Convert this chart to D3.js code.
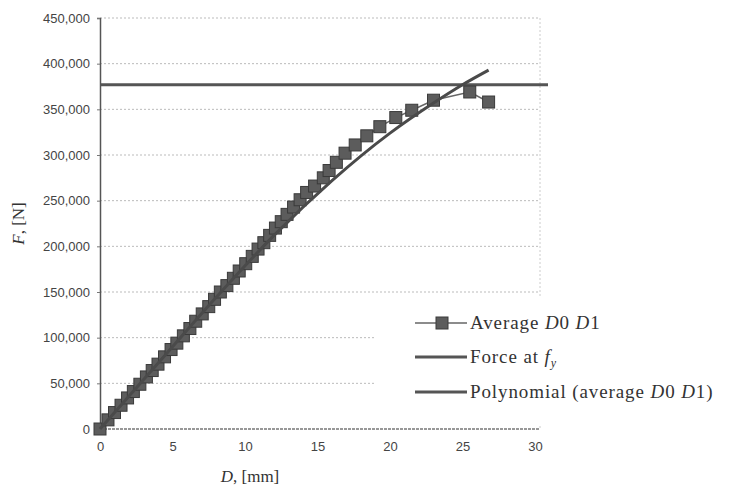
<!DOCTYPE html>
<html lang="en">
<head>
    <meta charset="UTF-8">
    <title>Force vs displacement</title>
    <style>
        body { margin: 0; background: #fff; }
        .tick text { font: 13px "Liberation Sans", Arial, sans-serif; fill: #444; }
        .title, .legend text { font-family: "Liberation Serif", "Times New Roman", serif; fill: #333; }
    </style>
</head>
<body>
    <svg width="729" height="487"></svg>
    <script src="https://d3js.org/d3.v7.min.js"></script>
    <script>
        // measured points, D [mm] and F [kN]
        const avgD = [0, 0.55, 1.0, 1.45, 1.9, 2.3, 2.75, 3.2, 3.6, 4.0, 4.45, 4.9, 5.3, 5.75, 6.2, 6.6,
            7.05, 7.5, 7.9, 8.3, 8.75, 9.2, 9.6, 10.05, 10.5, 10.9, 11.3, 11.7, 12.1, 12.5, 12.9, 13.35,
            13.8, 14.25, 14.8, 15.4, 15.8, 16.3, 16.9, 17.6, 18.4, 19.3, 20.4, 21.5, 23.0, 25.5, 26.8];
        const avgF = [0, 10, 18, 26, 34, 41, 49, 57, 64, 71, 79, 87, 94, 102, 110, 118,
            126, 134, 142, 150, 157, 165, 173, 181, 189, 197, 204, 212, 220, 227, 235, 243,
            251, 259, 266, 275, 283, 292, 302, 311, 321, 331, 341, 349, 360, 369, 358];

        // polynomial trendline
        const polyD = [0, 4, 8, 12, 16, 20, 23, 25, 26.8];
        const polyF = [0, 72, 144, 212, 272, 324, 357, 377, 393];

        const forceFy = 377; // kN

        const xTicks = [0, 5, 10, 15, 20, 25, 30];
        const yTicks = [0, 50, 100, 150, 200, 250, 300, 350, 400, 450];

        const svg = d3.select("svg");
        const x = d3.scaleLinear().domain([0, 30]).range([100, 535]);
        const y = d3.scaleLinear().domain([0, 450]).range([429, 18]);
        const fmt = d => d3.format(",")(d * 1000);

        // grid
        svg.append("g")
            .selectAll("line")
            .data(yTicks.slice(1))
            .enter().append("line")
            .attr("x1", x(0)).attr("x2", 540)
            .attr("y1", d => y(d)).attr("y2", d => y(d))
            .style("stroke", "#bbb")
            .style("stroke-dasharray", "2,2");

        // frame
        svg.append("line")
            .attr("x1", 540).attr("x2", 540).attr("y1", y(450)).attr("y2", y(0))
            .style("stroke", "#ccc").style("stroke-dasharray", "2,2");
        svg.append("line")
            .attr("x1", x(0)).attr("x2", 540).attr("y1", y(0)).attr("y2", y(0))
            .style("stroke", "#777").style("stroke-width", 1.5).style("stroke-dasharray", "3,1");

        const yAxis = svg.append("g")
            .attr("transform", `translate(${x(0)},0)`)
            .call(d3.axisLeft(y).tickValues(yTicks).tickFormat(fmt).tickSize(3).tickPadding(7));
        yAxis.select(".domain").style("stroke", "#555").style("stroke-width", 1.5);
        yAxis.selectAll(".tick line").style("stroke", "#777");

        const xAxis = svg.append("g")
            .attr("transform", `translate(0,${y(0)})`)
            .call(d3.axisBottom(x).tickValues(xTicks).tickSize(0).tickPadding(13));
        xAxis.select(".domain").remove();

        // axis titles
        svg.append("text")
            .attr("class", "title")
            .attr("transform", `translate(24,${y(225)}) rotate(-90)`)
            .attr("text-anchor", "middle")
            .style("font-size", "17px")
            .html('<tspan font-style="italic">F</tspan>, [N]');
        svg.append("text")
            .attr("class", "title")
            .attr("x", 250).attr("y", 482)
            .attr("text-anchor", "middle")
            .style("font-size", "17px")
            .html('<tspan font-style="italic">D</tspan>, [mm]');

        // force at fy
        svg.append("line")
            .attr("x1", x(0)).attr("x2", 548)
            .attr("y1", y(forceFy)).attr("y2", y(forceFy))
            .style("stroke", "#555").style("stroke-width", 3);

        // measured series
        const pts = avgD.map((d, i) => [d, avgF[i]]);
        svg.append("path")
            .datum(pts)
            .attr("d", d3.line().x(d => x(d[0])).y(d => y(d[1])))
            .style("fill", "none").style("stroke", "#666").style("stroke-width", 1.5);

        svg.append("g")
            .selectAll("rect")
            .data(pts)
            .enter().append("rect")
            .attr("x", d => x(d[0]) - 6).attr("y", d => y(d[1]) - 6)
            .attr("width", 12).attr("height", 12)
            .style("fill", "#5c5c5c").style("stroke", "#3a3a3a").style("stroke-width", 1);

        // polynomial
        const poly = polyD.map((d, i) => [d, polyF[i]]);
        svg.append("path")
            .datum(poly)
            .attr("d", d3.line().curve(d3.curveMonotoneX).x(d => x(d[0])).y(d => y(d[1])))
            .style("fill", "none").style("stroke", "#4a4a4a").style("stroke-width", 3);

        // legend
        const lg = svg.append("g").attr("class", "legend");
        lg.append("rect")
            .attr("x", 376).attr("y", 296).attr("width", 353).attr("height", 128)
            .style("fill", "#fff");

        const rows = [
            { y: 323, html: 'Average <tspan font-style="italic">D</tspan>0 <tspan font-style="italic">D</tspan>1', marker: true },
            { y: 357, html: 'Force at <tspan font-style="italic">f</tspan><tspan font-style="italic" font-size="12" dy="4">y</tspan>' },
            { y: 392, html: 'Polynomial (average <tspan font-style="italic">D</tspan>0 <tspan font-style="italic">D</tspan>1)' }
        ];
        rows.forEach(r => {
            lg.append("line")
                .attr("x1", 415).attr("x2", 467).attr("y1", r.y).attr("y2", r.y)
                .style("stroke", r.marker ? "#666" : "#555")
                .style("stroke-width", r.marker ? 1.5 : 3);
            if (r.marker) {
                lg.append("rect")
                    .attr("x", 436).attr("y", r.y - 6).attr("width", 12).attr("height", 12)
                    .style("fill", "#5c5c5c").style("stroke", "#3a3a3a");
            }
            lg.append("text")
                .attr("x", 470).attr("y", r.y + 6)
                .style("font-size", "19px")
                .style("letter-spacing", "0.9px")
                .html(r.html);
        });
    </script>
</body>
</html>
